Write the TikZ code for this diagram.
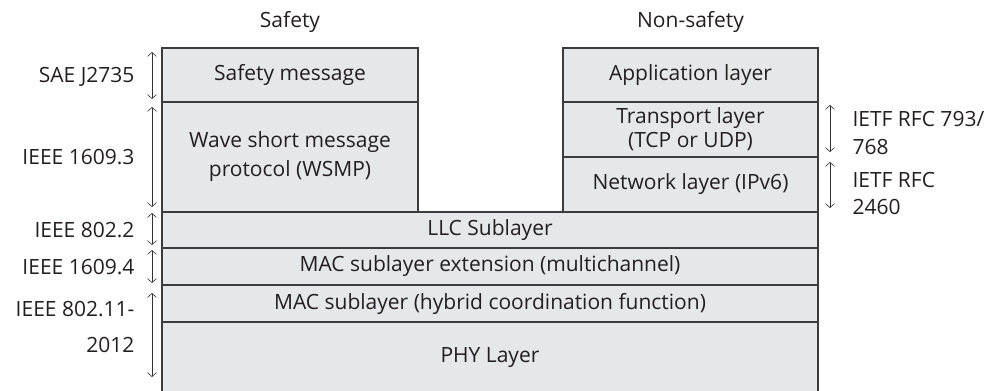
\documentclass[tikz,border=0pt]{standalone}
\usepackage{fontspec}
\setmainfont{Open Sans}
\usepackage{tikz}
\usetikzlibrary{arrows.meta}
\usetikzlibrary{calc}

\definecolor{layerfill}{HTML}{E6E7E8}
\definecolor{layerline}{HTML}{3C3C3C}
\definecolor{inktext}{HTML}{231F20}

\begin{document}
\begin{tikzpicture}[
  x=1pt, y=-1pt,
  every node/.style={font=\fontsize{21}{24}\selectfont, text=inktext},
  layer/.style={draw=layerline, fill=layerfill, line width=1.2pt, inner sep=0pt, outer sep=0pt, align=center},
  span/.style={line width=0.6pt, draw=black!80, {Straight Barb[length=4pt,width=9pt]}-{Straight Barb[length=4pt,width=9pt]}},
  stdl/.style={anchor=east, align=right},
  stdr/.style={anchor=west, align=left}
]
\useasboundingbox (0,0) rectangle (999,391);
% column heads
\node (hs) at (290,22) {Safety};
\node (hn) at (690.5,22) {Non-safety};
% safety stack
\node[layer, minimum width=256pt, minimum height=54pt] (sm) at (290,75) {Safety message};
\node[layer, minimum width=256pt, minimum height=110pt] (wsmp) at (290,157) {Wave short message\\[5pt]protocol (WSMP)};
% non-safety stack
\node[layer, minimum width=255pt, minimum height=54pt] (app) at (690.5,75) {Application layer};
\node[layer, minimum width=255pt, minimum height=55pt] (tr) at (690.5,129.5) {Transport layer\\(TCP or UDP)};
\node[layer, minimum width=255pt, minimum height=55pt] (net) at (690.5,184.5) {Network layer (IPv6)};
% common layers
\node[layer, minimum width=656pt, minimum height=36pt] (llc) at (490,230) {LLC Sublayer};
\node[layer, minimum width=656pt, minimum height=37pt] (macx) at (490,266.5) {MAC sublayer extension (multichannel)};
\node[layer, minimum width=656pt, minimum height=37pt] (mac) at (490,303.5) {MAC sublayer (hybrid coordination function)};
\node[layer, minimum width=656pt, minimum height=72pt] (phy) at (490,358) {PHY Layer};
% standards on the left
\node[stdl] (sae) at (138,77) {SAE J2735};
\node[stdl] (s16093) at (138,157) {IEEE 1609.3};
\node[stdl] (s8022) at (138,230) {IEEE 802.2};
\node[stdl] (s16094) at (138,267) {IEEE 1609.4};
\node[stdl] (s80211) at (138,327) {IEEE 802.11-\\[12pt]2012};
% standards on the right
\node[stdr] (rfc793) at (849,132.5) {IETF RFC 793/\\[4pt]768};
\node[stdr] (rfc2460) at (849,193.5) {IETF RFC\\[3pt]2460};
% spans
\draw[span] ([xshift=-10pt,yshift=-4pt]sm.north west) -- ([xshift=-10pt,yshift=3pt]sm.south west);
\draw[span] ([xshift=-10pt,yshift=-5pt]wsmp.north west) -- ([xshift=-10pt,yshift=5pt]wsmp.south west);
\draw[span] ([xshift=-10pt,yshift=-1pt]llc.north west) -- ([xshift=-10pt,yshift=3pt]llc.south west);
\draw[span] ([xshift=-10pt,yshift=-2pt]macx.north west) -- ([xshift=-10pt,yshift=2pt]macx.south west);
\draw[span] ([xshift=-10pt,yshift=-8pt]mac.north west) -- ([xshift=-10pt,yshift=17pt]phy.south west);
\draw[span] ([xshift=12pt,yshift=-3pt]tr.north east) -- ([xshift=12pt,yshift=5pt]tr.south east);
\draw[span] ([xshift=12pt,yshift=-5pt]net.north east) -- ([xshift=12pt,yshift=4pt]net.south east);
\end{tikzpicture}
\end{document}
